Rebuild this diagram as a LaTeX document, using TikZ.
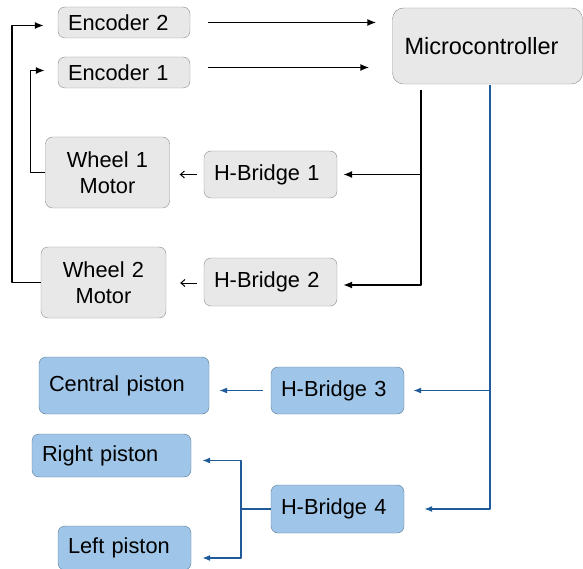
\documentclass[tikz,border=0pt]{standalone}
\usepackage{fontspec}
\setmainfont{Liberation Sans}
\usetikzlibrary{arrows.meta}
\definecolor{boxgrey}{HTML}{E8E8E8}
\definecolor{edgegrey}{HTML}{8C8C8C}
\definecolor{boxblue}{HTML}{9FC5E8}
\definecolor{edgeblue}{HTML}{5A7A96}
\definecolor{wireblue}{HTML}{1F5B99}
\begin{document}
\begin{tikzpicture}[x=1pt,y=-1pt,>={Latex[length=9pt,width=7pt]}, line join=round,
	block/.style={draw=edgegrey, fill=boxgrey, rounded corners=7pt, inner xsep=10pt, inner ysep=0pt, align=left, font=\fontsize{21.8}{26}\selectfont},
	bblock/.style={block, draw=edgeblue, fill=boxblue},
	wire/.style={line width=1.4pt},
	bwire/.style={line width=1.2pt, draw=wireblue, >={Latex[length=8pt,width=6pt]}},
	thinarrow/.style={line width=1pt, -{Straight Barb[length=4pt,width=7pt]}}]
	\useasboundingbox (0,0) rectangle (583,569);
	% nodes
	\node[block, text width=112pt, minimum height=31pt] (enc2) at (124,22.5) {Encoder 2};
	\node[block, text width=112pt, minimum height=31pt] (enc1) at (124,72.5) {Encoder 1};
	\node[block, text width=166pt, minimum height=76pt, inner xsep=12pt, rounded corners=11pt, font=\fontsize{23.5}{28}\selectfont] (micro) at (487.5,46) {Microcontroller};
	\node[block, text width=104pt, minimum height=71pt, align=center] (w1) at (107.5,172.5) {Wheel 1\\Motor};
	\node[block, text width=105pt, minimum height=71pt, align=center] (w2) at (103.5,282.5) {Wheel 2\\Motor};
	\node[block, text width=113pt, minimum height=47pt] (hb1) at (270.5,174.5) {H-Bridge 1};
	\node[block, text width=113pt, minimum height=48pt] (hb2) at (270.5,282) {H-Bridge 2};
	\node[bblock, text width=150pt, minimum height=57pt] (cp) at (124,385.5) {Central piston};
	\node[bblock, text width=113pt, minimum height=47pt] (hb3) at (337.5,390.5) {H-Bridge 3};
	\node[bblock, text width=139pt, minimum height=43pt] (rp) at (111.5,455.5) {Right piston};
	\node[bblock, text width=113pt, minimum height=48pt] (hb4) at (337.5,509) {H-Bridge 4};
	\node[bblock, text width=113pt, minimum height=44pt] (lp) at (124.5,548) {Left piston};
	\coordinate (ktop) at (421,90);
	\coordinate (btop) at (490,85);
	\coordinate (fork) at (241,509);
	% encoders to microcontroller
	\draw[wire,->,shorten <=18pt,shorten >=16pt] (enc2.east) -- (enc2.east -| micro.west);
	\draw[wire,->,shorten <=18pt,shorten >=23pt] ([yshift=5pt]enc1.east) -- ([yshift=5pt]enc1.east -| micro.west);
	% motor side
	\draw[wire] (ktop) -- (ktop |- hb1.east);
	\draw[wire,->,shorten >=6pt] (ktop |- hb1.east) -- (hb1.east);
	\draw[wire,->,shorten >=6pt] (ktop |- hb1.east) |- ([yshift=-3pt]hb2.east);
	\draw[thinarrow,shorten <=7pt,shorten >=10pt] (hb1.west) -- (hb1.west -| w1.east);
	\draw[thinarrow,shorten <=7pt,shorten >=14pt] ([yshift=-1pt]hb2.west) -- ([yshift=-1pt]hb2.west -| w2.east);
	\draw[wire,->,shorten >=13pt] (w1.west) -- ++(-15,0) |- ([yshift=2pt]enc1.west);
	\draw[wire,->,shorten >=14pt] (w2.west) -- ++(-29,0) |- ([yshift=-3pt]enc2.west);
	% piston side
	\draw[bwire] (btop) -- (btop |- hb3.east);
	\draw[bwire,->,shorten >=9pt] (btop |- hb3.east) -- (hb3.east);
	\draw[bwire,->,shorten >=20pt] (btop |- hb3.east) |- (hb4.east);
	\draw[bwire,->,shorten <=8pt,shorten >=10pt] (hb3.west) -- (hb3.west -| cp.east);
	\draw[bwire] (hb4.west) -- (fork);
	\draw[bwire,->,shorten >=11pt] (fork) |- ([yshift=-5pt]rp.east);
	\draw[bwire,->,shorten >=11pt] (fork) |- ([yshift=-10pt]lp.east);
\end{tikzpicture}
\end{document}
